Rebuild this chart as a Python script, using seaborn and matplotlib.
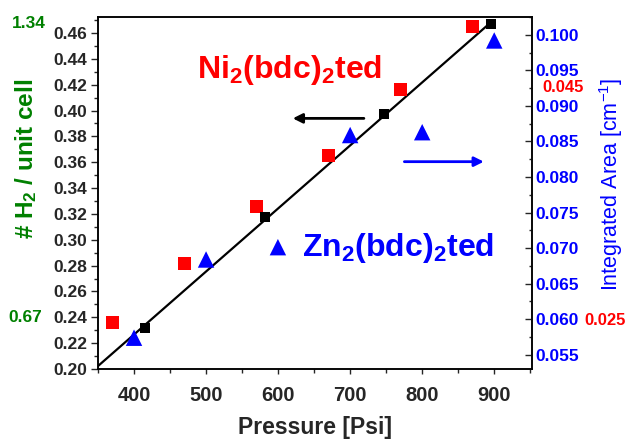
import numpy as np
import matplotlib
matplotlib.use("Agg")
import matplotlib.pyplot as plt
import seaborn as sns
from matplotlib.ticker import MultipleLocator, FormatStrFormatter

# ---- data ----
pressure_fit = [415, 582, 747, 896]
h2_fit = [0.232, 0.318, 0.397, 0.467]

pressure_ni = [370, 470, 570, 670, 770, 870]
h2_ni = [0.236, 0.282, 0.326, 0.365, 0.416, 0.465]

pressure_zn = [400, 500, 700, 800, 900]
area_zn = [0.0574, 0.0684, 0.0859, 0.0863, 0.0992]

ni_label = r"Ni$_\mathbf{2}$(bdc)$_\mathbf{2}$ted"
zn_label = r"Zn$_\mathbf{2}$(bdc)$_\mathbf{2}$ted"

sns.set_theme(style="ticks")
plt.rcParams["font.family"] = ["Liberation Sans", "DejaVu Sans"]
plt.rcParams["mathtext.fontset"] = "custom"
plt.rcParams["mathtext.rm"] = "Liberation Sans"
plt.rcParams["mathtext.bf"] = "Liberation Sans:bold"
plt.rcParams["mathtext.default"] = "bf"

RED = "#FF0000"
BLUE = "#0000FF"
GREEN = "#008000"

fig = plt.figure(figsize=(6.29, 4.40), dpi=100)
ax = fig.add_axes([98 / 629, 1 - 369 / 440, (531.7 - 98) / 629, (369 - 17) / 440])
ax2 = ax.twinx()

# fit line (left axis), clipped by the axes at the lower-left corner
coef = np.polyfit(pressure_fit, h2_fit, 1)
xs = np.array([330, max(pressure_fit)])
sns.lineplot(x=xs, y=np.polyval(coef, xs), color="black", lw=1.6, ax=ax, zorder=2)

sns.scatterplot(x=pressure_ni, y=h2_ni, marker="s", s=88, color=RED,
                edgecolor="none", ax=ax, zorder=3, legend=False)
sns.scatterplot(x=pressure_fit, y=h2_fit, marker="s", s=52, color="black",
                edgecolor="none", ax=ax, zorder=4, legend=False)
sns.scatterplot(x=pressure_zn, y=area_zn, marker="^", s=140, color=BLUE,
                edgecolor="none", ax=ax2, zorder=3, label=zn_label)

ax.set_xlim(350, 952)
ax.set_ylim(0.20, 0.4724)
ax2.set_ylim(0.0530, 0.1025)

ax.xaxis.set_major_locator(MultipleLocator(100))
ax.xaxis.set_minor_locator(MultipleLocator(50))
ax.yaxis.set_major_locator(MultipleLocator(0.02))
ax.yaxis.set_minor_locator(MultipleLocator(0.01))
ax.yaxis.set_major_formatter(FormatStrFormatter("%.2f"))
ax2.yaxis.set_major_locator(MultipleLocator(0.005))
ax2.yaxis.set_minor_locator(MultipleLocator(0.0025))
ax2.yaxis.set_major_formatter(FormatStrFormatter("%.3f"))

for a in (ax, ax2):
    for s in a.spines.values():
        s.set_linewidth(1.1)
        s.set_color("black")
        s.set_visible(True)

ax.tick_params(axis="x", which="major", direction="out", length=3.5, width=1,
               pad=9, labelsize=14.5, top=False)
ax.tick_params(axis="x", which="minor", direction="out", length=3, width=1, top=False)
ax.tick_params(axis="y", which="major", direction="out", length=5, width=1,
               pad=3, labelsize=12.5, right=False)
ax.tick_params(axis="y", which="minor", direction="out", length=3, width=1, right=False)
ax2.tick_params(axis="y", which="major", direction="in", length=5, width=1,
                pad=3, labelsize=12.5, labelcolor=BLUE, left=False)
ax2.tick_params(axis="y", which="minor", direction="in", length=2.5, width=1, left=False)
for lab in ax.get_xticklabels() + ax.get_yticklabels() + ax2.get_yticklabels():
    lab.set_fontweight("bold")

ax.set_xlabel("Pressure [Psi]", fontsize=16.5, fontweight="bold", labelpad=8)
ax.set_ylabel(r"# H$_\mathbf{2}$ / unit cell", fontsize=17.5, fontweight="bold", color=GREEN)
ax.yaxis.label.set(ha="center", va="center")
ax.yaxis.set_label_coords(-0.166, 0.598)
ax2.set_ylabel(r"Integrated Area [cm$^{\mathrm{-1}}$]", fontsize=15.5, color=BLUE)
ax2.yaxis.label.set(ha="center", va="center", rotation=90)
ax2.yaxis.set_label_coords(1.183, 0.524)

# series name and legend
ax.text(0.2276, 0.827, ni_label, transform=ax.transAxes, color=RED,
        fontsize=23, fontweight="bold", ha="left", va="baseline")
leg = ax2.legend(loc="center left", bbox_to_anchor=(0.378, 0.345), frameon=False,
                 handlelength=1.0, handletextpad=0.24, borderpad=0, borderaxespad=0,
                 scatterpoints=1, prop={"size": 23, "weight": "bold"}, labelcolor=BLUE)

# arrows
ax.annotate("", xy=(0.4427, 0.712), xytext=(0.6195, 0.712), xycoords="axes fraction",
            arrowprops=dict(arrowstyle="-|>", color="black", lw=2, mutation_scale=14))
ax.annotate("", xy=(0.896, 0.589), xytext=(0.700, 0.589), xycoords="axes fraction",
            arrowprops=dict(arrowstyle="-|>", color=BLUE, lw=2, mutation_scale=14))

# extra scale labels
fig.text(28.5 / 629, 1 - 23 / 440, "1.34", color=GREEN, fontsize=12.5,
         fontweight="bold", ha="center", va="center")
fig.text(25.5 / 629, 1 - 317 / 440, "0.67", color=GREEN, fontsize=12.5,
         fontweight="bold", ha="center", va="center")
fig.text(563 / 629, 1 - 88 / 440, "0.045", color=RED, fontsize=12,
         fontweight="bold", ha="center", va="center")
fig.text(605.5 / 629, 1 - 320 / 440, "0.025", color=RED, fontsize=12,
         fontweight="bold", ha="center", va="center")

fig.savefig("out.png", dpi=100)
